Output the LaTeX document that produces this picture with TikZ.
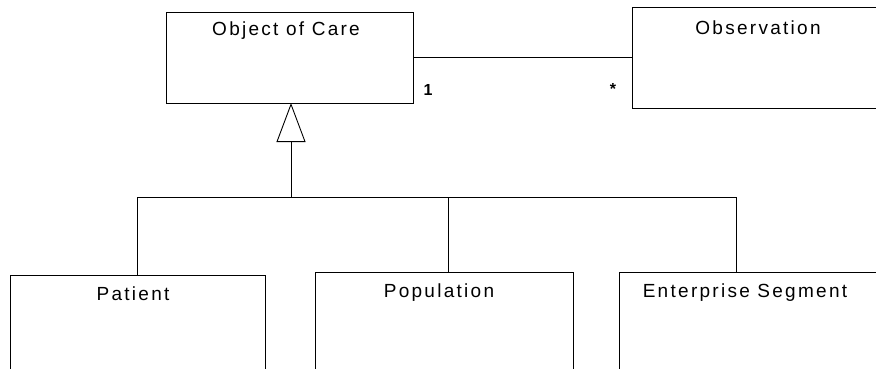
\documentclass[tikz,border=0pt]{standalone}
\usepackage{fontspec}
\setmainfont{Liberation Sans}[LetterSpace=12]
\usetikzlibrary{arrows.meta,calc}
\begin{document}
\begin{tikzpicture}[x=1pt,y=-1pt,
  box/.style={draw,line width=0.9pt,anchor=north west,inner sep=0pt,outer sep=0pt},
  title/.style={font=\fontsize{19}{21}\selectfont,inner sep=0pt,anchor=center},
  mult/.style={font=\fontsize{16}{18}\selectfont\bfseries,inner sep=0pt},
  conn/.style={line width=0.9pt}]
\useasboundingbox (0,0) rectangle (876,368);
\clip (0,0) rectangle (876,368);
% boxes
\node[box,minimum width=247pt,minimum height=91pt] (ooc) at (166,12) {};
\node[box,minimum width=270pt,minimum height=101pt] (obs) at (632,7) {};
\node[box,minimum width=255pt,minimum height=110pt] (pat) at (10,275) {};
\node[box,minimum width=258pt,minimum height=110pt] (pop) at (315,272) {};
\node[box,minimum width=270pt,minimum height=110pt] (ent) at (619,272) {};
% titles
\node[title] (tooc) at (286,31) {Object of Care};
\node[title] (tobs) at (758,28) {Observation};
\node[title] (tpat) at (133,294) {Patient};
\node[title] (tpop) at (439,293) {Population};
\node[title] (tent) at (745,293) {Enterprise Segment};
% association
\draw[conn] (ooc.east) -- (obs.west);
\node[mult] (m1) at (428,90) {1};
\node[mult] (m2) at (613,89) {*};
% generalization
\coordinate (j) at (291,197);
\draw[conn,-{Triangle[open,length=39pt,width=29pt,line width=0.9pt]}] (j) -- (j |- ooc.south);
\draw[conn] (j) -| (pat.north);
\draw[conn] (j) -| ($(pop.north west)+(133,0)$);
\draw[conn] (j) -| ($(ent.north west)+(117,0)$);
\end{tikzpicture}
\end{document}
